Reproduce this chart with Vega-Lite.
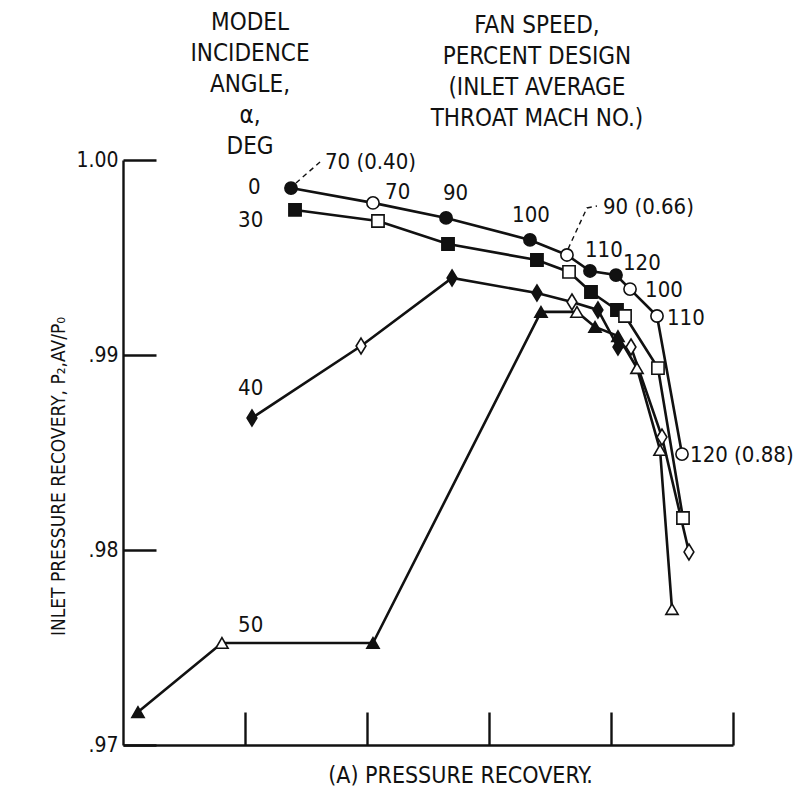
{
  "$schema": "https://vega.github.io/schema/vega-lite/v6.json",
  "width": 610,
  "height": 585,
  "autosize": {"type": "none"},
  "padding": {"left": 123, "top": 160, "right": 64, "bottom": 49},
  "background": "white",
  "config": {
    "font": "Liberation Sans Narrow, DejaVu Sans Condensed, sans-serif",
    "view": {"stroke": null},
    "axis": {
      "grid": false,
      "domainColor": "#111",
      "domainWidth": 2.4,
      "tickColor": "#111",
      "tickWidth": 2.4,
      "tickSize": -33,
      "labelColor": "#111",
      "titleColor": "#111",
      "titleFontWeight": "normal",
      "labelFont": "Liberation Sans Narrow, DejaVu Sans Condensed, sans-serif",
      "titleFont": "Liberation Sans Narrow, DejaVu Sans Condensed, sans-serif"
    }
  },
  "datasets": {
    "pts": [
      {"angle": 0, "run": "filled", "speed": 70, "x": 1.377, "y": 0.99856},
      {"angle": 0, "run": "open", "speed": 70, "x": 2.049, "y": 0.99780},
      {"angle": 0, "run": "filled", "speed": 90, "x": 2.648, "y": 0.99703},
      {"angle": 0, "run": "filled", "speed": 100, "x": 3.336, "y": 0.99590},
      {"angle": 0, "run": "open", "speed": 90, "x": 3.639, "y": 0.99513},
      {"angle": 0, "run": "filled", "speed": 110, "x": 3.828, "y": 0.99431},
      {"angle": 0, "run": "filled", "speed": 120, "x": 4.041, "y": 0.99410},
      {"angle": 0, "run": "open", "speed": 100, "x": 4.156, "y": 0.99338},
      {"angle": 0, "run": "open", "speed": 110, "x": 4.377, "y": 0.99200},
      {"angle": 0, "run": "open", "speed": 120, "x": 4.582, "y": 0.98492},
      {"angle": 30, "run": "filled", "speed": 70, "x": 1.410, "y": 0.99744},
      {"angle": 30, "run": "open", "speed": 70, "x": 2.090, "y": 0.99687},
      {"angle": 30, "run": "filled", "speed": 90, "x": 2.664, "y": 0.99569},
      {"angle": 30, "run": "filled", "speed": 100, "x": 3.393, "y": 0.99487},
      {"angle": 30, "run": "open", "speed": 90, "x": 3.656, "y": 0.99426},
      {"angle": 30, "run": "filled", "speed": 110, "x": 3.836, "y": 0.99323},
      {"angle": 30, "run": "filled", "speed": 120, "x": 4.049, "y": 0.99231},
      {"angle": 30, "run": "open", "speed": 100, "x": 4.115, "y": 0.99200},
      {"angle": 30, "run": "open", "speed": 110, "x": 4.385, "y": 0.98933},
      {"angle": 30, "run": "open", "speed": 120, "x": 4.590, "y": 0.98164},
      {"angle": 40, "run": "filled", "speed": 70, "x": 1.057, "y": 0.98677},
      {"angle": 40, "run": "open", "speed": 70, "x": 1.951, "y": 0.99046},
      {"angle": 40, "run": "filled", "speed": 90, "x": 2.697, "y": 0.99395},
      {"angle": 40, "run": "filled", "speed": 100, "x": 3.393, "y": 0.99318},
      {"angle": 40, "run": "open", "speed": 90, "x": 3.680, "y": 0.99272},
      {"angle": 40, "run": "filled", "speed": 110, "x": 3.893, "y": 0.99231},
      {"angle": 40, "run": "filled", "speed": 120, "x": 4.057, "y": 0.99041},
      {"angle": 40, "run": "open", "speed": 100, "x": 4.164, "y": 0.99041},
      {"angle": 40, "run": "open", "speed": 110, "x": 4.418, "y": 0.98579},
      {"angle": 40, "run": "open", "speed": 120, "x": 4.639, "y": 0.97990},
      {"angle": 50, "run": "filled", "speed": 70, "x": 0.123, "y": 0.97169},
      {"angle": 50, "run": "open", "speed": 70, "x": 0.811, "y": 0.97523},
      {"angle": 50, "run": "filled", "speed": 90, "x": 2.049, "y": 0.97523},
      {"angle": 50, "run": "filled", "speed": 100, "x": 3.426, "y": 0.99221},
      {"angle": 50, "run": "open", "speed": 90, "x": 3.721, "y": 0.99221},
      {"angle": 50, "run": "filled", "speed": 110, "x": 3.869, "y": 0.99144},
      {"angle": 50, "run": "filled", "speed": 120, "x": 4.057, "y": 0.99097},
      {"angle": 50, "run": "open", "speed": 100, "x": 4.213, "y": 0.98933},
      {"angle": 50, "run": "open", "speed": 110, "x": 4.402, "y": 0.98513},
      {"angle": 50, "run": "open", "speed": 120, "x": 4.500, "y": 0.97697}
    ],
    "leaders": [
      {"id": "a", "x": 1.418, "y": 0.99882},
      {"id": "a", "x": 1.615, "y": 0.99990},
      {"id": "b", "x": 3.648, "y": 0.99544},
      {"id": "b", "x": 3.803, "y": 0.99754},
      {"id": "b", "x": 3.885, "y": 0.99764}
    ],
    "labels": [
      {"label": "0", "x": 1.025, "y": 0.99862},
      {"label": "30", "x": 0.943, "y": 0.99692},
      {"label": "40", "x": 0.943, "y": 0.98831},
      {"label": "50", "x": 0.943, "y": 0.97615},
      {"label": "70 (0.40)", "x": 1.656, "y": 0.99990},
      {"label": "70", "x": 2.148, "y": 0.99836},
      {"label": "90", "x": 2.623, "y": 0.99831},
      {"label": "100", "x": 3.189, "y": 0.99718},
      {"label": "90 (0.66)", "x": 3.934, "y": 0.99759},
      {"label": "110", "x": 3.787, "y": 0.99538},
      {"label": "120", "x": 4.098, "y": 0.99472},
      {"label": "100", "x": 4.279, "y": 0.99333},
      {"label": "110", "x": 4.459, "y": 0.99190},
      {"label": "120 (0.88)", "x": 4.648, "y": 0.98487}
    ],
    "headers": [
      {"label": "MODEL\nINCIDENCE\nANGLE,\nα,\nDEG", "x": 1.041, "y": 1.00764},
      {"label": "FAN SPEED,\nPERCENT DESIGN\n(INLET AVERAGE\nTHROAT MACH NO.)", "x": 3.393, "y": 1.00749}
    ]
  },
  "encoding": {
    "x": {
      "field": "x",
      "type": "quantitative",
      "scale": {"domain": [0, 5], "nice": false, "zero": false},
      "axis": {
        "values": [1, 2, 3, 4, 5],
        "labels": false,
        "title": "(A) PRESSURE RECOVERY.",
        "titleFontSize": 23,
        "titleX": 337,
        "titleY": 30,
        "titleBaseline": "middle",
        "titleAlign": "center"
      }
    },
    "y": {
      "field": "y",
      "type": "quantitative",
      "scale": {"domain": [0.97, 1.0], "nice": false, "zero": false},
      "axis": {
        "values": [0.97, 0.98, 0.99, 1.0],
        "labelExpr": "datum.value >= 0.999 ? '1.00' : replace(format(datum.value, '.2f'), '0.', '.')",
        "labelFontSize": 21,
        "labelPadding": 38,
        "title": "INLET PRESSURE RECOVERY, P₂,AV/P₀",
        "titleFontSize": 19,
        "titleX": -65,
        "titleY": 316,
        "titleAngle": 270,
        "titleBaseline": "middle",
        "titleAlign": "center"
      }
    }
  },
  "layer": [
    {
      "data": {"name": "pts"},
      "mark": {"type": "line", "color": "#111", "strokeWidth": 2.6},
      "encoding": {"detail": {"field": "angle", "type": "nominal"}}
    },
    {
      "data": {"name": "leaders"},
      "mark": {"type": "line", "color": "#111", "strokeWidth": 1.4, "strokeDash": [5, 4]},
      "encoding": {"detail": {"field": "id", "type": "nominal"}}
    },
    {
      "data": {"name": "pts"},
      "mark": {"type": "point", "filled": true, "stroke": "#111", "strokeWidth": 1.6, "opacity": 1, "size": 150},
      "encoding": {
        "shape": {
          "field": "angle",
          "type": "nominal",
          "scale": {"domain": [0, 30, 40, 50], "range": ["circle", "square", "M0,-1.3L0.8,0L0,1.3L-0.8,0Z", "triangle-up"]},
          "legend": null
        },
        "fill": {
          "field": "run",
          "type": "nominal",
          "scale": {"domain": ["filled", "open"], "range": ["#111", "white"]},
          "legend": null
        }
      }
    },
    {
      "data": {"name": "labels"},
      "mark": {"type": "text", "align": "left", "baseline": "middle", "fontSize": 22, "color": "#111"},
      "encoding": {"text": {"field": "label", "type": "nominal"}}
    },
    {
      "data": {"name": "headers"},
      "mark": {"type": "text", "align": "center", "baseline": "top", "fontSize": 24, "lineBreak": "\n", "lineHeight": 31, "color": "#111"},
      "encoding": {"text": {"field": "label", "type": "nominal"}}
    }
  ]
}
